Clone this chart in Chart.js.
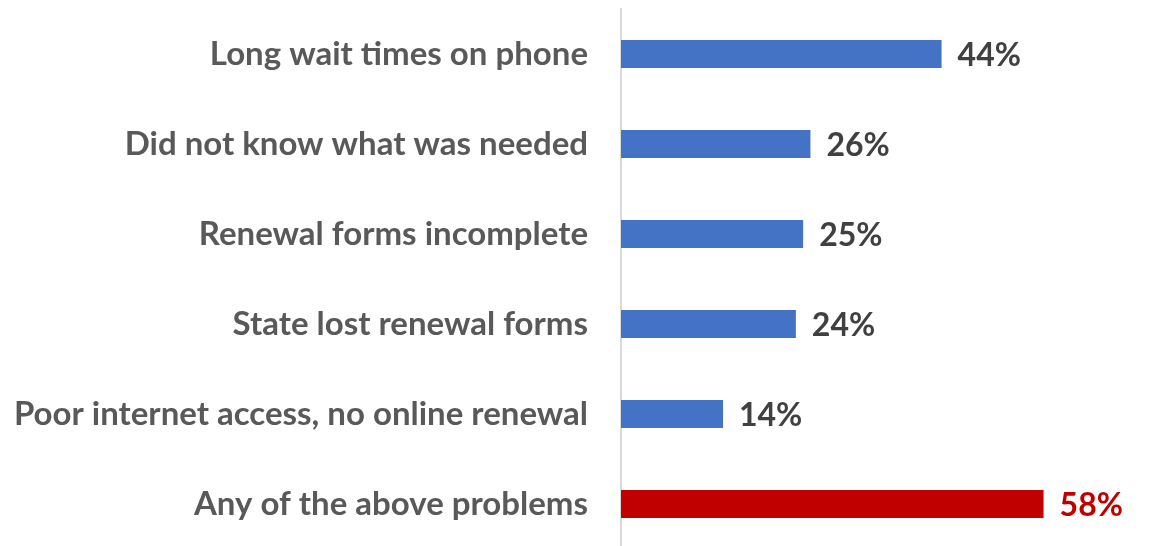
<!DOCTYPE html>
<html>
<head>
<meta charset="utf-8">
<script src="https://cdn.jsdelivr.net/npm/chart.js@4/dist/chart.umd.min.js"></script>
<style>
  html, body { margin: 0; padding: 0; background: #fff; overflow: hidden; }
</style>
</head>
<body>
<canvas id="problemsChart" width="1151" height="552"></canvas>
<script>
const categories = [
    'Long wait times on phone',
    'Did not know what was needed',
    'Renewal forms incomplete',
    'State lost renewal forms',
    'Poor internet access, no online renewal',
    'Any of the above problems'
];
const values = [44, 26, 25, 24, 14, 58];
const barColors = ['#4472C4', '#4472C4', '#4472C4', '#4472C4', '#4472C4', '#C00000'];
const labelColors = ['#404040', '#404040', '#404040', '#404040', '#404040', '#C00000'];

const FONT = "Lato, 'Open Sans', sans-serif";

// draws the "44%" style labels just past the end of each bar
const valueLabels = {
    id: 'valueLabels',
    afterDatasetsDraw(chart) {
        const ctx = chart.ctx;
        const meta = chart.getDatasetMeta(0);
        ctx.save();
        ctx.font = 'bold 32px ' + FONT;
        ctx.textAlign = 'left';
        ctx.textBaseline = 'middle';
        meta.data.forEach((bar, i) => {
            ctx.fillStyle = labelColors[i];
            ctx.fillText(values[i] + '%', bar.x + 16, bar.y + 2);
        });
        ctx.restore();
    }
};

new Chart(document.getElementById('problemsChart'), {
    type: 'bar',
    data: {
        labels: categories,
        datasets: [{
            data: values,
            backgroundColor: barColors,
            borderWidth: 0,
            barPercentage: 0.31,
            categoryPercentage: 1
        }]
    },
    options: {
        indexAxis: 'y',
        responsive: false,
        animation: false,
        layout: { padding: { top: 9, right: 20, bottom: 3, left: 0 } },
        plugins: {
            legend: { display: false },
            tooltip: { enabled: false }
        },
        scales: {
            x: {
                display: false,
                min: 0,
                max: 70
            },
            y: {
                afterFit(scale) {
                    scale.width = 621;
                    scale.paddingTop = 0;
                    scale.paddingBottom = 0;
                },
                grid: { display: false, drawTicks: false },
                border: { display: true, color: '#D9D9D9', width: 2 },
                ticks: {
                    color: '#595959',
                    padding: 33,
                    font: { family: FONT, size: 33, weight: 'bold' }
                }
            }
        }
    },
    plugins: [valueLabels]
});
</script>
</body>
</html>
